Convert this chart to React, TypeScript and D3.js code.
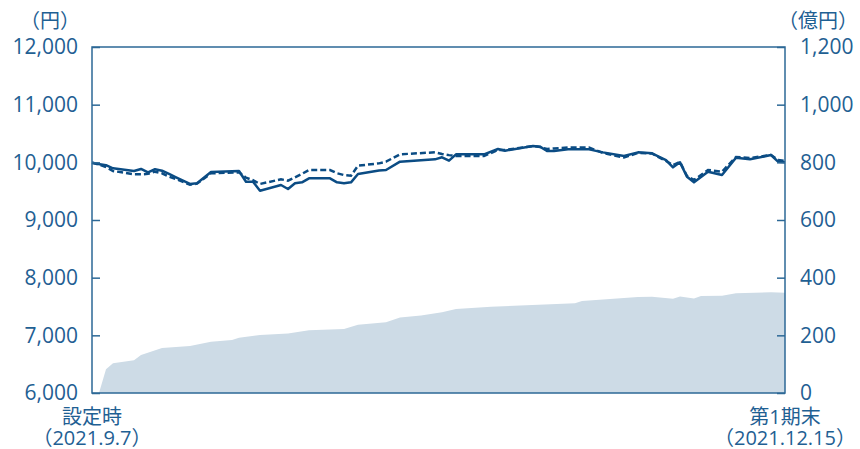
import React, { useEffect, useRef } from "react";
import * as d3 from "d3";

const WIDTH = 860;
const HEIGHT = 449;

// 基準価額・ベンチマーク（円）
const lineDates = [
  "2021-09-07", "2021-09-09", "2021-09-10", "2021-09-13", "2021-09-14", "2021-09-15",
  "2021-09-16", "2021-09-17", "2021-09-18", "2021-09-19", "2021-09-21", "2021-09-22",
  "2021-09-24", "2021-09-28", "2021-09-29", "2021-09-30", "2021-10-01", "2021-10-04",
  "2021-10-05", "2021-10-06", "2021-10-07", "2021-10-08", "2021-10-11", "2021-10-12",
  "2021-10-13", "2021-10-14", "2021-10-15", "2021-10-18", "2021-10-19", "2021-10-21",
  "2021-10-26", "2021-10-27", "2021-10-28", "2021-10-29", "2021-11-02", "2021-11-04",
  "2021-11-05", "2021-11-09", "2021-11-10", "2021-11-11", "2021-11-12", "2021-11-14",
  "2021-11-17", "2021-11-19", "2021-11-22", "2021-11-24", "2021-11-26", "2021-11-28",
  "2021-11-29", "2021-11-30", "2021-12-01", "2021-12-02", "2021-12-04", "2021-12-06",
  "2021-12-08", "2021-12-10", "2021-12-13", "2021-12-14", "2021-12-15",
];
const navValues = [
  9990, 9950, 9897, 9850, 9885, 9827, 9880, 9855, 9800, 9740, 9625, 9636,
  9832, 9850, 9664, 9664, 9508, 9607, 9538, 9636, 9653, 9723, 9723, 9653,
  9636, 9653, 9797, 9860, 9867, 10012, 10052, 10087, 10029, 10139, 10139, 10231,
  10202, 10283, 10272, 10197, 10197, 10225, 10225, 10173, 10110, 10173, 10156, 10040,
  9913, 10000, 9751, 9653, 9838, 9780, 10081, 10052, 10127, 10012, 10000,
];
const benchValues = [
  10000, 9920, 9850, 9792, 9792, 9800, 9838, 9810, 9751, 9710, 9613, 9630,
  9810, 9827, 9734, 9690, 9625, 9705, 9682, 9740, 9800, 9867, 9867, 9810,
  9780, 9769, 9942, 9982, 10012, 10139, 10173, 10144, 10125, 10110, 10110, 10214,
  10214, 10283, 10266, 10231, 10240, 10257, 10257, 10162, 10084, 10162, 10153, 10023,
  9953, 10005, 9763, 9694, 9867, 9838, 10093, 10075, 10127, 10040, 10023,
];

// 純資産総額（億円）
const assetDates = [
  "2021-09-08", "2021-09-09", "2021-09-10", "2021-09-13", "2021-09-14", "2021-09-17",
  "2021-09-21", "2021-09-24", "2021-09-27", "2021-09-28", "2021-10-01", "2021-10-05",
  "2021-10-08", "2021-10-13", "2021-10-15", "2021-10-19", "2021-10-21", "2021-10-24",
  "2021-10-27", "2021-10-29", "2021-11-03", "2021-11-15", "2021-11-16", "2021-11-20",
  "2021-11-24", "2021-11-26", "2021-11-29", "2021-11-30", "2021-12-02", "2021-12-03",
  "2021-12-06", "2021-12-08", "2021-12-13", "2021-12-15",
];
const assetValues = [
  0, 82, 103, 114, 132, 156, 163, 178, 184, 192, 201, 206,
  218, 222, 237, 245, 262, 269, 280, 291, 299, 311, 319, 326,
  333, 334, 327, 335, 328, 336, 337, 346, 349, 348,
];

const priceTicks = [6000, 7000, 8000, 9000, 10000, 11000, 12000];
const assetTicks = [0, 200, 400, 600, 800, 1000, 1200];

const TEXT = "#1f6093";
const AXIS = "#2c6896";
const LINE = "#0b4c84";
const AREA = "#cddbe6";
const FONT = "'Open Sans', 'Noto Sans CJK JP', sans-serif";

const margin = { top: 47, right: 75, bottom: 56, left: 92 };

export default function App() {
  const svgRef = useRef<SVGSVGElement>(null);

  useEffect(() => {
    if (!svgRef.current) return;
    const svg = d3.select(svgRef.current);
    svg.selectAll("*").remove();

    const parse = d3.timeParse("%Y-%m-%d");
    const x0 = margin.left;
    const x1 = WIDTH - margin.right;
    const y0 = HEIGHT - margin.bottom;
    const y1 = margin.top;

    const x = d3.scaleTime()
      .domain([parse("2021-09-07")!, parse("2021-12-15")!])
      .range([x0, x1]);
    const yL = d3.scaleLinear().domain([6000, 12000]).range([y0, y1]);
    const yR = d3.scaleLinear().domain([0, 1200]).range([y0, y1]);

    // area
    const assets = assetDates.map((d, i) => ({ date: parse(d)!, v: assetValues[i] }));
    const area = d3.area<{ date: Date; v: number }>()
      .x(d => x(d.date))
      .y0(y0)
      .y1(d => yR(d.v));
    svg.append("path").datum(assets).attr("d", area).attr("fill", AREA);

    // lines
    const nav = lineDates.map((d, i) => ({ date: parse(d)!, v: navValues[i] }));
    const bench = lineDates.map((d, i) => ({ date: parse(d)!, v: benchValues[i] }));
    const line = d3.line<{ date: Date; v: number }>()
      .x(d => x(d.date))
      .y(d => yL(d.v));

    svg.append("path").datum(bench).attr("d", line)
      .attr("fill", "none").attr("stroke", LINE).attr("stroke-width", 2.5)
      .attr("stroke-dasharray", "6,3");
    svg.append("path").datum(nav).attr("d", line)
      .attr("fill", "none").attr("stroke", LINE).attr("stroke-width", 2.5)
      .attr("stroke-linejoin", "round");

    // frame
    svg.append("rect")
      .attr("x", x0).attr("y", y1)
      .attr("width", x1 - x0).attr("height", y0 - y1)
      .attr("fill", "none").attr("stroke", AXIS).attr("stroke-width", 1.5);

    // left axis
    const left = svg.append("g").attr("transform", `translate(${x0},0)`)
      .call(d3.axisRight(yL).tickValues(priceTicks).tickSize(8).tickFormat(() => ""));
    left.select(".domain").remove();
    left.selectAll(".tick line").attr("stroke", AXIS).attr("stroke-width", 1.5);
    svg.append("g").selectAll("text").data(priceTicks).join("text")
      .attr("x", x0 - 14).attr("y", d => yL(d)).attr("dy", "0.35em")
      .attr("text-anchor", "end").attr("fill", TEXT)
      .style("font", `21px ${FONT}`)
      .text(d => d3.format(",")(d));

    // right axis
    const right = svg.append("g").attr("transform", `translate(${x1},0)`)
      .call(d3.axisLeft(yR).tickValues(assetTicks).tickSize(8).tickFormat(() => ""));
    right.select(".domain").remove();
    right.selectAll(".tick line").attr("stroke", AXIS).attr("stroke-width", 1.5);
    svg.append("g").selectAll("text").data(assetTicks).join("text")
      .attr("x", x1 + 15).attr("y", d => yR(d)).attr("dy", "0.35em")
      .attr("text-anchor", "start").attr("fill", TEXT)
      .style("font", `21px ${FONT}`)
      .text(d => d3.format(",")(d));

    // units
    svg.append("text").attr("x", 80).attr("y", 21).attr("dy", "0.35em")
      .attr("text-anchor", "end").attr("fill", TEXT).style("font", `20px ${FONT}`)
      .text("（円）");
    svg.append("text").attr("x", 858).attr("y", 21).attr("dy", "0.35em")
      .attr("text-anchor", "end").attr("fill", TEXT).style("font", `20px ${FONT}`)
      .text("（億円）");

    // x labels
    const xLabels = [
      { date: "2021-09-07", top: "設定時", bottom: "（2021.9.7）" },
      { date: "2021-12-15", top: "第1期末", bottom: "（2021.12.15）" },
    ];
    const xl = svg.append("g").selectAll("g").data(xLabels).join("g")
      .attr("transform", d => `translate(${x(parse(d.date)!)},0)`);
    xl.append("text").attr("y", 417).attr("dy", "0.35em")
      .attr("text-anchor", "middle").attr("fill", TEXT).style("font", `20px ${FONT}`)
      .text(d => d.top);
    xl.append("text").attr("y", 438).attr("dy", "0.35em")
      .attr("text-anchor", "middle").attr("fill", TEXT).style("font", `20px ${FONT}`)
      .text(d => d.bottom);
  }, []);

  return (
    <svg
      ref={svgRef}
      width={WIDTH}
      height={HEIGHT}
      style={{ position: "absolute", left: 0, top: 0, background: "#fff" }}
    />
  );
}
